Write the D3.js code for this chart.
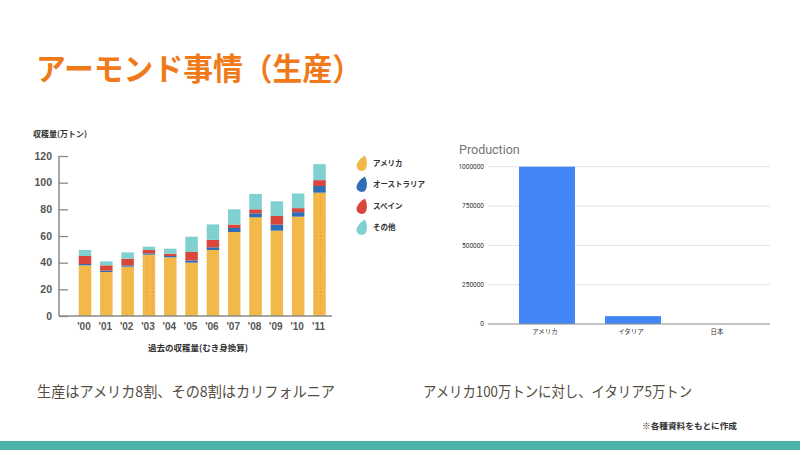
<!DOCTYPE html>
<html><head><meta charset="utf-8">
<script src="https://cdn.jsdelivr.net/npm/d3@7/dist/d3.min.js"></script>
<style>
html,body{margin:0;padding:0;background:#fff;}
svg{display:block;}
text{font-family:"Noto Sans CJK JP","Noto Sans",sans-serif;}
</style></head>
<body>
<svg id="c" width="800" height="450"></svg>
<script>
// ---- data: left stacked chart (万トン) ----
const years = ["'00","'01","'02","'03","'04","'05","'06","'07","'08","'09","'10","'11"];
const usa       = [38, 33, 37, 46, 44, 40, 49.5, 63, 74, 64, 74.5, 92.5];
const australia = [1, 1, 1, 1, 1, 1.7, 2, 3, 3, 4.6, 3.4, 5];
const spain     = [6, 4, 5, 2.5, 1.7, 6.3, 5.6, 2.6, 3, 6.4, 3, 4.4];
const others    = [4.5, 3, 4.7, 2.5, 3.8, 11.5, 11.6, 11.4, 11.6, 11, 11, 12];
const seriesNames = ["アメリカ","オーストラリア","スペイン","その他"];
const highlighted = ["'03","'11"];
const leftTicks = [0,20,40,60,80,100,120];

// ---- data: right bar chart (tons) ----
const countries = ["アメリカ","イタリア","日本"];
const production = [1000000, 50000, 0];
const rightTicks = [0,250000,500000,750000,1000000];

const colors = ["#f2b94a","#2f6db5","#d9463b","#7fd0cf"];

const svg = d3.select("#c");

// dotted highlight pattern
const defs = svg.append("defs");
const pat = defs.append("pattern").attr("id","dots").attr("patternUnits","userSpaceOnUse")
  .attr("x",1).attr("width",6).attr("height",3.5);
pat.append("rect").attr("width",6).attr("height",3.5).attr("fill",colors[0]);
pat.append("circle").attr("cx",2).attr("cy",1.5).attr("r",0.6).attr("fill","#ec8a3a");

// Title
svg.append("text").attr("x",36).attr("y",80)
  .attr("font-size",31).attr("font-weight",700).attr("fill","#f07a1a")
  .attr("textLength",326).attr("lengthAdjust","spacingAndGlyphs")
  .text("アーモンド事情（生産）");

// ---------- Left chart ----------
const yL = d3.scaleLinear().domain([0,120]).range([316,156]);
const xL = d3.scalePoint().domain(years).range([85,319.5]);
const bwL = 12.5;

const rows = years.map((y,i)=>({year:y, a:usa[i], b:australia[i], c:spain[i], d:others[i]}));
const stack = d3.stack().keys(["a","b","c","d"])(rows);

const gL = svg.append("g");
stack.forEach((layer,k)=>{
  gL.append("g").selectAll("rect").data(layer).join("rect")
    .attr("x",d=>xL(d.data.year)-bwL/2)
    .attr("y",d=>yL(d[1]))
    .attr("width",bwL)
    .attr("height",d=>yL(d[0])-yL(d[1]))
    .attr("fill",d=> (k===0 && highlighted.includes(d.data.year)) ? "url(#dots)" : colors[k]);
});

// y axis
const axL = gL.append("g").attr("transform","translate(59,0)")
  .call(d3.axisRight(yL).tickValues(leftTicks).tickSize(9).tickFormat(""));
axL.select(".domain").remove();
axL.selectAll(".tick line").attr("stroke","#8a8a8a").attr("stroke-width",1.3);
gL.append("line").attr("x1",59).attr("x2",59).attr("y1",yL(120)).attr("y2",yL(0))
  .attr("stroke","#8a8a8a").attr("stroke-width",1.5);
gL.append("line").attr("x1",59).attr("x2",332).attr("y1",yL(0)).attr("y2",yL(0))
  .attr("stroke","#8a8a8a").attr("stroke-width",1.5);
gL.selectAll(".ylab").data(leftTicks).join("text")
  .attr("x",52).attr("y",d=>yL(d)+3.5).attr("text-anchor","end")
  .style("font-family","'Liberation Sans',Arial,sans-serif")
  .attr("font-size",10.5).attr("font-weight",700).attr("fill","#555").text(d=>d);
gL.selectAll(".xlab").data(years).join("text")
  .attr("x",d=>xL(d)-1).attr("y",330).attr("text-anchor","middle")
  .style("font-family","'Liberation Sans',Arial,sans-serif")
  .attr("font-size",10).attr("font-weight",700).attr("fill","#555").text(d=>d);

svg.append("text").attr("x",33).attr("y",137).attr("font-size",8).attr("font-weight",700)
  .attr("fill","#333").text("収穫量(万トン)");
svg.append("text").attr("x",198).attr("y",351).attr("text-anchor","middle").attr("font-size",8.5)
  .attr("font-weight",700).attr("fill","#333").text("過去の収穫量(むき身換算)");

// legend
const legY = [163,184,206,227];
const leg = svg.append("g");
seriesNames.forEach((n,i)=>{
  const g = leg.append("g").attr("transform",`translate(362.5,${legY[i]}) rotate(18)`);
  g.append("path").attr("d","M0,-8 C3,-5 5,-1 5,3 C5,6.5 2.5,8 0,8 C-2.5,8 -5,6.5 -5,3 C-5,-1 -3,-5 0,-8 Z")
    .attr("fill",colors[i]);
  leg.append("text").attr("x",373).attr("y",legY[i]+3).attr("font-size",7.5).attr("font-weight",700)
    .attr("fill","#333").text(n);
});

// ---------- Right chart ----------
const yR = d3.scaleLinear().domain([0,1000000]).range([324,166.7]);
const xR = d3.scalePoint().domain(countries).range([547,719]);
const bwR = 56;
const gR = svg.append("g");
gR.append("text").attr("x",459).attr("y",154).attr("font-size",12.5)
  .style("font-family","Roboto,Arial,sans-serif").attr("fill","#757575").text("Production");
gR.selectAll(".grid").data(rightTicks.filter(d=>d>0)).join("line")
  .attr("x1",488).attr("x2",770).attr("y1",d=>yR(d)).attr("y2",d=>yR(d))
  .attr("stroke","#e3e3e3").attr("stroke-width",1);
gR.selectAll(".bar").data(production).join("rect")
  .attr("x",(d,i)=>xR(countries[i])-bwR/2).attr("y",d=>yR(d))
  .attr("width",bwR).attr("height",d=>yR(0)-yR(d)).attr("fill","#4285f4");
gR.append("line").attr("x1",488).attr("x2",770).attr("y1",yR(0)).attr("y2",yR(0))
  .attr("stroke","#8c8c8c").attr("stroke-width",1);
gR.selectAll(".ylab").data(rightTicks).join("text")
  .attr("x",484).attr("y",d=>yR(d)+2.2).attr("text-anchor","end")
  .style("font-family","Roboto,Arial,sans-serif").attr("font-size",6.5).attr("fill","#333").text(d=>d);
gR.selectAll(".xlab").data(countries).join("text")
  .attr("x",d=>xR(d)-2).attr("y",333.5).attr("text-anchor","middle")
  .attr("font-size",6.5).attr("fill","#333").text(d=>d);

// captions
svg.append("text").attr("x",37).attr("y",397).attr("font-size",15).attr("fill","#554d43")
  .attr("textLength",298).attr("lengthAdjust","spacingAndGlyphs")
  .text("生産はアメリカ8割、その8割はカリフォルニア");
svg.append("text").attr("x",423).attr("y",397).attr("font-size",15).attr("fill","#554d43")
  .attr("textLength",269).attr("lengthAdjust","spacingAndGlyphs")
  .text("アメリカ100万トンに対し、イタリア5万トン");
svg.append("text").attr("x",642).attr("y",429).attr("font-size",8.5).attr("font-weight",700).attr("fill","#333")
  .attr("textLength",95).attr("lengthAdjust","spacingAndGlyphs")
  .text("※各種資料をもとに作成");

// bottom band
svg.append("rect").attr("x",0).attr("y",441).attr("width",800).attr("height",9).attr("fill","#4db3a8");
</script>
</body></html>
